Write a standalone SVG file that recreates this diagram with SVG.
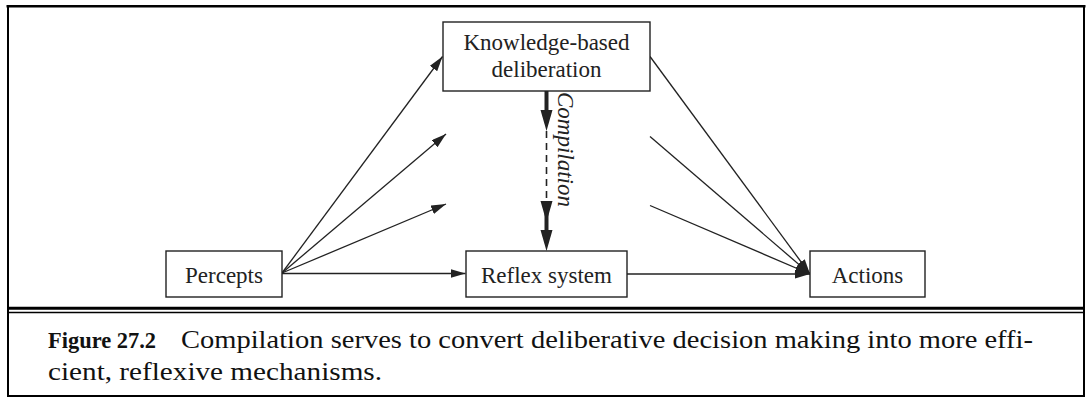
<svg xmlns="http://www.w3.org/2000/svg" width="1089" height="397" viewBox="0 0 1089 397">
<style>
.box{fill:#fff;stroke:#222;stroke-width:1.4}
.lbl{font-family:"Liberation Serif","Times New Roman",serif;font-size:23px;fill:#222;text-anchor:middle}
.rot{font-family:"Liberation Serif","Times New Roman",serif;font-size:23px;font-style:italic;fill:#222;text-anchor:start}
.thin{stroke:#222;stroke-width:1.3;fill:none}
.thick{stroke:#222;stroke-width:4;fill:none}
.head{fill:#222}
.cap{font-family:"Liberation Serif","Times New Roman",serif;font-size:24.5px;fill:#111}
.capb{font-family:"Liberation Serif","Times New Roman",serif;font-size:24px;font-weight:bold;fill:#111}
.frame{stroke:#000;fill:none}
</style>
<defs>
<marker id="ah" markerUnits="userSpaceOnUse" markerWidth="16" markerHeight="10" refX="15" refY="4.5" orient="auto">
<path d="M0,0 L15,4.5 L0,9 Z" fill="#222"/>
</marker>
</defs>
<rect width="1089" height="397" fill="#fff"/>
<g id="frame">
<line class="frame" x1="6.5" y1="6.2" x2="1085.5" y2="6.2" stroke-width="2.6"/>
<line class="frame" x1="8" y1="5" x2="8" y2="397" stroke-width="2"/>
<line class="frame" x1="1084" y1="5" x2="1084" y2="397" stroke-width="2"/>
<line class="frame" x1="7" y1="396" x2="1085" y2="396" stroke-width="2"/>
<line class="frame" x1="8" y1="308.2" x2="1084" y2="308.2" stroke-width="3"/>
<line class="frame" x1="8" y1="312.6" x2="1084" y2="312.6" stroke-width="1.5"/>
</g>
<g id="connectors">
<line class="thin" x1="282" y1="273" x2="442.5" y2="56.5" marker-end="url(#ah)"/>
<line class="thin" x1="282" y1="273" x2="446" y2="134" marker-end="url(#ah)"/>
<line class="thin" x1="282" y1="273" x2="446" y2="204" marker-end="url(#ah)"/>
<line class="thin" x1="282" y1="273.5" x2="465.5" y2="273.5" marker-end="url(#ah)"/>
<line class="thin" x1="650" y1="56.5" x2="810" y2="274" marker-end="url(#ah)"/>
<line class="thin" x1="650" y1="136.5" x2="810" y2="274" marker-end="url(#ah)"/>
<line class="thin" x1="650" y1="205.5" x2="810" y2="274" marker-end="url(#ah)"/>
<line class="thin" x1="627" y1="274" x2="810" y2="274" marker-end="url(#ah)"/>
<line class="thick" x1="546.5" y1="91" x2="546.5" y2="112"/>
<polygon class="head" points="540.5,110 552.5,110 546.5,131"/>
<line stroke="#222" stroke-width="1.6" stroke-dasharray="7,5" x1="546.5" y1="131" x2="546.5" y2="203"/>
<line class="thick" x1="546.5" y1="203" x2="546.5" y2="233"/>
<polygon class="head" points="540.5,201 552.5,201 546.5,222"/>
<polygon class="head" points="540.5,230 552.5,230 546.5,251"/>
</g>
<g id="kb">
<rect class="box" x="443" y="22" width="207" height="69"/>
<text class="lbl" x="546.5" y="50">Knowledge-based</text>
<text class="lbl" x="546.5" y="77">deliberation</text>
</g>
<g id="compilation-label">
<text class="rot" x="0" y="0" transform="translate(557.5,92) rotate(90)">Compilation</text>
</g>
<g id="percepts">
<rect class="box" x="166" y="251" width="116" height="46"/>
<text class="lbl" x="224" y="283">Percepts</text>
</g>
<g id="reflex">
<rect class="box" x="466" y="251" width="161" height="46"/>
<text class="lbl" x="546.5" y="283">Reflex system</text>
</g>
<g id="actions">
<rect class="box" x="810" y="251" width="115" height="46"/>
<text class="lbl" x="867.5" y="283">Actions</text>
</g>
<g id="caption">
<text class="capb" x="48" y="348" textLength="108" lengthAdjust="spacingAndGlyphs">Figure 27.2</text>
<text class="cap" x="181" y="348" textLength="852" lengthAdjust="spacingAndGlyphs">Compilation serves to convert deliberative decision making into more effi-</text>
<text class="cap" x="48" y="380" textLength="334" lengthAdjust="spacingAndGlyphs">cient, reflexive mechanisms.</text>
</g>
</svg>
